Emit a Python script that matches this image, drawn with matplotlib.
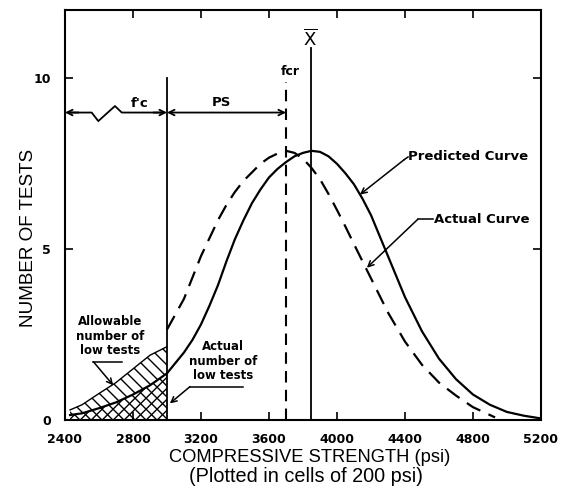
import matplotlib
matplotlib.use("Agg")
import matplotlib.pyplot as plt
from matplotlib.patches import Polygon

# ---- data ----
pred_x = [2430, 2500, 2600, 2700, 2800, 2900, 3000, 3100, 3150, 3200, 3250, 3300,
          3350, 3400, 3450, 3500, 3550, 3600, 3650, 3700, 3750, 3800, 3850, 3900,
          3950, 4000, 4050, 4100, 4150, 4200, 4300, 4400, 4500, 4600, 4700, 4800,
          4900, 5000, 5100, 5200]
pred_y = [0.15, 0.2, 0.35, 0.52, 0.75, 1.02, 1.37, 1.98, 2.35, 2.8, 3.35, 3.95,
          4.65, 5.3, 5.85, 6.35, 6.75, 7.1, 7.35, 7.55, 7.72, 7.82, 7.88, 7.85,
          7.72, 7.5, 7.22, 6.9, 6.48, 6.0, 4.8, 3.6, 2.6, 1.8, 1.2, 0.75,
          0.45, 0.24, 0.13, 0.05]

act_x = [3000, 3100, 3200, 3300, 3350, 3400, 3450, 3500, 3550, 3600, 3650, 3700,
         3750, 3800, 3850, 3900, 3950, 4000, 4050, 4100, 4150, 4200, 4300, 4400,
         4500, 4600, 4700, 4800, 4900, 4930]
act_y = [2.65, 3.55, 4.8, 5.85, 6.3, 6.68, 7.0, 7.25, 7.5, 7.68, 7.8, 7.88,
         7.82, 7.65, 7.38, 7.05, 6.62, 6.15, 5.66, 5.15, 4.65, 4.15, 3.15, 2.3,
         1.62, 1.1, 0.72, 0.38, 0.15, 0.08]

allow_x = [2430, 2500, 2600, 2700, 2800, 2900, 3000]
allow_y = [0.3, 0.45, 0.78, 1.1, 1.5, 1.9, 2.15]

fc = 3000
fcr = 3700
xbar = 3850

x_ticks = [2400, 2800, 3200, 3600, 4000, 4400, 4800, 5200]
y_ticks = [0, 5, 10]

plt.rcParams['font.family'] = ['Liberation Sans', 'DejaVu Sans']
BOLD = dict(family='DejaVu Sans', fontweight='bold')

fig = plt.figure(figsize=(5.67, 4.88), dpi=100)
ax = fig.add_axes([0.1146, 0.139, 0.8395, 0.8405])
ax.set_xlim(2400, 5200)
ax.set_ylim(0, 12)


def hatch_region(xs_lo, ys_lo, xs_hi, ys_hi, directions, step_px):
    """Hatch a region bounded by two curves with clipped diagonal lines."""
    verts = list(zip(xs_hi, ys_hi)) + list(zip(xs_lo[::-1], ys_lo[::-1]))
    poly = Polygon(verts, closed=True, facecolor='none', edgecolor='none')
    ax.add_patch(poly)
    psi_per_px = 2800 / 476.0
    unit_per_px = 12 / 410.0
    x0, x1 = min(xs_lo + xs_hi), max(xs_lo + xs_hi)
    span_px = (x1 - x0) / psi_per_px + 200
    n = int(span_px / step_px) + 2
    for d in directions:
        for i in range(-n, n):
            sx = x0 - 100 * psi_per_px + i * step_px * psi_per_px
            xa, xb = sx - 300 * psi_per_px, sx + 300 * psi_per_px
            ya, yb = -d * 300 * unit_per_px, d * 300 * unit_per_px
            ln, = ax.plot([xa, xb], [ya, yb], color='black', lw=1.0)
            ln.set_clip_path(poly)


low_pred_x = [x for x in pred_x if x <= fc]
low_pred_y = [y for x, y in zip(pred_x, pred_y) if x <= fc]
hatch_region(low_pred_x, [0] * len(low_pred_x), low_pred_x, low_pred_y, [1, -1], 11)
hatch_region(allow_x, low_pred_y, allow_x, allow_y, [-1], 12)
ax.plot(allow_x, allow_y, color='black', lw=1.0)

# curves
ax.plot(pred_x, pred_y, color='black', lw=1.6)
ax.plot(act_x, act_y, color='black', lw=1.6, linestyle=(0, (7, 4)))

# vertical lines
ax.plot([fc, fc], [0, 10], color='black', lw=1.3)
ax.plot([fcr, fcr], [0, 9.9], color='black', lw=1.5, linestyle=(0, (5.5, 3.5)))
ax.plot([xbar, xbar], [0, 10.9], color='black', lw=1.3)

ax.text(fcr + 25, 10.2, 'fcr', ha='center', va='center', fontsize=9, **BOLD)
ax.text(xbar - 5, 11.15, r'$\overline{\mathrm{X}}$', ha='center', va='center', fontsize=13)

# f'c dimension with zigzag
ax.plot([2430, 2557, 2596, 2694, 2734, 2970], [9, 9, 8.75, 9.19, 9, 9], color='black', lw=1.3)
ax.annotate('', xy=(2400, 9), xytext=(2480, 9),
            arrowprops=dict(arrowstyle='->', lw=1.3, color='black', shrinkA=0, shrinkB=0))
ax.annotate('', xy=(fc, 9), xytext=(2920, 9),
            arrowprops=dict(arrowstyle='->', lw=1.3, color='black', shrinkA=0, shrinkB=0))
ax.text(2840, 9.27, "f'c", ha='center', va='center', fontsize=9.5, **BOLD)

# PS dimension
ax.annotate('', xy=(fcr, 9), xytext=(fc, 9),
            arrowprops=dict(arrowstyle='<->', lw=1.3, color='black', shrinkA=0, shrinkB=0))
ax.text(3320, 9.28, 'PS', ha='center', va='center', fontsize=9.5, **BOLD)

# curve labels
ax.text(4420, 7.7, 'Predicted Curve', ha='left', va='center', fontsize=9.5, **BOLD)
ax.plot([4418, 4395], [7.7, 7.62], color='black', lw=1.1)
ax.annotate('', xy=(4135, 6.6), xytext=(4395, 7.62),
            arrowprops=dict(arrowstyle='->', lw=1.1, color='black', shrinkA=0, shrinkB=0))

ax.text(4570, 5.88, 'Actual Curve', ha='left', va='center', fontsize=9.5, **BOLD)
ax.plot([4565, 4476], [5.88, 5.88], color='black', lw=1.1)
ax.annotate('', xy=(4176, 4.46), xytext=(4476, 5.88),
            arrowprops=dict(arrowstyle='->', lw=1.1, color='black', shrinkA=0, shrinkB=0))

ax.text(2665, 2.45, 'Allowable\nnumber of\nlow tests', ha='center', va='center',
        fontsize=8.5, linespacing=1.15, **BOLD)
ax.plot([2733, 2567], [1.71, 1.71], color='black', lw=1.1)
ax.annotate('', xy=(2684, 1.02), xytext=(2567, 1.71),
            arrowprops=dict(arrowstyle='->', lw=1.1, color='black', shrinkA=0, shrinkB=0))

ax.text(3330, 1.73, 'Actual\nnumber of\nlow tests', ha='center', va='center',
        fontsize=8.5, linespacing=1.15, **BOLD)
ax.plot([3447, 3135], [0.98, 0.98], color='black', lw=1.1)
ax.annotate('', xy=(3017, 0.49), xytext=(3135, 0.98),
            arrowprops=dict(arrowstyle='->', lw=1.1, color='black', shrinkA=0, shrinkB=0))

# axes styling
for s in ax.spines.values():
    s.set_linewidth(1.5)
ax.set_xticks(x_ticks)
ax.set_yticks(y_ticks)
ax.tick_params(direction='in', length=6, width=1.2, top=True, right=True, labelsize=9)
ax.tick_params(axis='x', pad=9)
ax.tick_params(axis='y', pad=10)
for lab in ax.get_xticklabels() + ax.get_yticklabels():
    lab.set_fontweight('bold')
    lab.set_family('DejaVu Sans')

fig.text(310 / 567, 1 - 457 / 488, 'COMPRESSIVE STRENGTH (psi)', ha='center', va='center',
         fontsize=13.2)
fig.text(306 / 567, 1 - 476 / 488, '(Plotted in cells of 200 psi)', ha='center', va='center',
         fontsize=14.3)
fig.text(29 / 567, 1 - 238 / 488, 'NUMBER OF TESTS', ha='center', va='center',
         rotation=90, fontsize=13.6)

fig.savefig('out.png', dpi=100)
